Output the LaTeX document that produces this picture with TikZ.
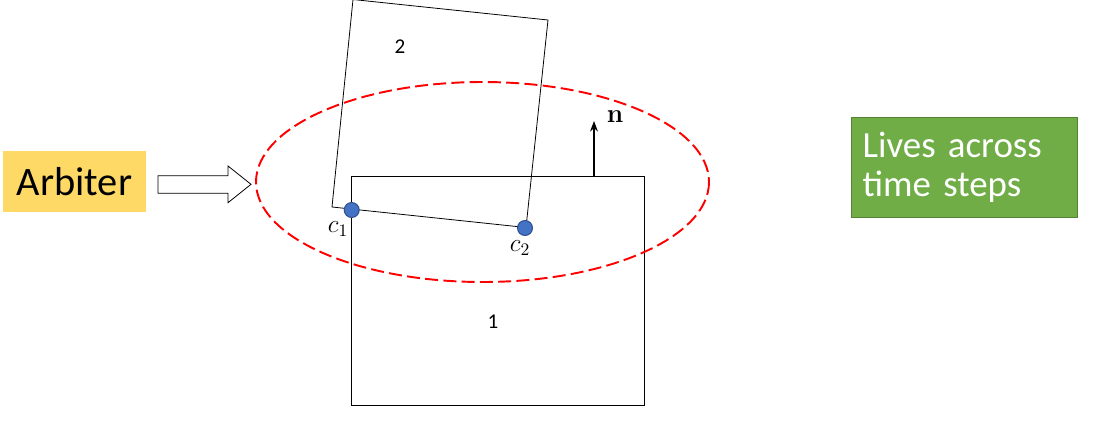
\documentclass[tikz,border=0pt]{standalone}
\usepackage{fontspec}
\setmainfont{Carlito}
\newfontfamily\vecfont{Latin Modern Roman}
\usetikzlibrary{arrows.meta}
\definecolor{arbiteryellow}{HTML}{FFD966}
\definecolor{notegreen}{HTML}{70AD47}
\definecolor{noteedge}{HTML}{548235}
\definecolor{contactblue}{HTML}{4472C4}
\definecolor{contactedge}{HTML}{2F528F}
\tikzset{%
  body/.style    = {draw, line width=0.45pt},%
  region/.style  = {draw=red, line width=1.1pt, dash pattern=on 7.4pt off 3pt},%
  contact/.style = {circle, draw=contactedge, fill=contactblue, line width=0.6pt,%
                    inner sep=0pt, minimum size=8.5pt},%
  arbiter/.style = {fill=arbiteryellow, minimum width=81pt, minimum height=34.6pt,%
                    inner sep=0pt, font=\fontsize{23}{26}\selectfont},%
  note/.style    = {fill=notegreen, draw=noteedge, line width=0.5pt, text=white,%
                    minimum width=128.7pt, minimum height=57.3pt, inner xsep=6.2pt,%
                    text width=116pt, align=left, font=\fontsize{21}{22}\selectfont},%
  block/.style   = {draw, line width=0.45pt, fill=white},%
  normal/.style  = {draw, line width=0.6pt, -{Stealth[length=6pt,width=4.5pt]}}%
}
\begin{document}
\begin{tikzpicture}[x=0.02cm, y=-0.02cm, every node/.style = {font=\fontsize{12}{14}\selectfont}]
  \useasboundingbox (0,0) rectangle (1099,430);
  % the two bodies
  \draw[body] (351,176) rectangle (644,405);
  \draw[body] (332,207) -- (526,227.5) -- (548,20) -- (353,-0.5) -- cycle;
  \node (lbl1) at (493,322) {1};
  \node (lbl2) at (400,47) {2};
  % contact region
  \draw[region] (482.5,182) ellipse [x radius=226.5, y radius=100];
  \node[contact] (c1) at (351.7,210) {};
  \node[contact] (c2) at (525,228) {};
  \node[font=\fontsize{14}{16}\selectfont] (c1lbl) at (338,229) {$c_1$};
  \node[font=\fontsize{14}{16}\selectfont] (c2lbl) at (520,248) {$c_2$};
  % normal
  \coordinate (nbase) at (594,176);
  \coordinate (ntip)  at (594,121);
  \draw[normal] (nbase) -- (ntip);
  \node[font=\vecfont\bfseries\fontsize{15}{16}\selectfont] (nlbl) at (615,117) {n};
  % arbiter
  \node[arbiter] (arb) at (74.5,181.5) {Arbiter};
  \draw[block] (158,175.7) -- (228,175.7) -- (228,166) -- (251,184.3)
               -- (228,202.7) -- (228,193.3) -- (158,193.3) -- cycle;
  \node[note] (lives) at (964.5,167.5) {Lives across\\time steps};
\end{tikzpicture}
\end{document}
